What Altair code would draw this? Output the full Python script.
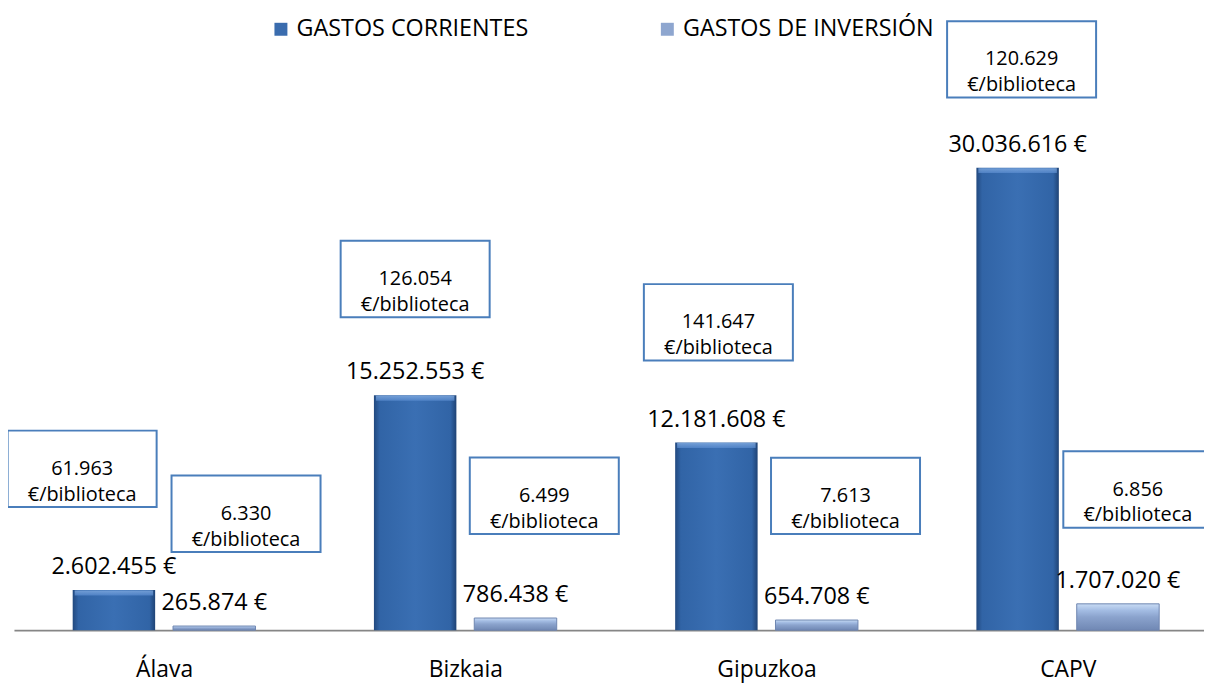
import altair as alt
import pandas as pd

# ---------------- data ----------------
categorias = ["Álava", "Bizkaia", "Gipuzkoa", "CAPV"]
series = ["GASTOS CORRIENTES", "GASTOS DE INVERSIÓN"]
gastos_corrientes = [2602455, 15252553, 12181608, 30036616]
gastos_inversion = [265874, 786438, 654708, 1707020]
biblio_corrientes = [61963, 126054, 141647, 120629]
biblio_inversion = [6330, 6499, 7613, 6856]


def fmt(v):
    return f"{v:,}".replace(",", ".")


rows = []
for i, c in enumerate(categorias):
    for s, vals, per in ((series[0], gastos_corrientes, biblio_corrientes),
                         (series[1], gastos_inversion, biblio_inversion)):
        rows.append({
            "categoria": c,
            "serie": s,
            "valor": vals[i],
            "etiqueta": fmt(vals[i]) + " €",
            "caja": fmt(per[i]) + "\n€/biblioteca",
        })
df = pd.DataFrame(rows)

# ---------------- layout / style ----------------
FONT = "Open Sans"
W, H = 1198, 620
SERIES_DX = {series[0]: -51, series[1]: 50}
BAR_W = 83
# box placement relative to the top-centre of its bar (pixels)
BOX_SHIFT = {
    ("Álava", series[0]): (-32, -122),
    ("Álava", series[1]): (32, -113),
    ("Bizkaia", series[0]): (0, -117),
    ("Bizkaia", series[1]): (29, -123),
    ("Gipuzkoa", series[0]): (2, -121),
    ("Gipuzkoa", series[1]): (29, -125),
    ("CAPV", series[0]): (4, -109),
    ("CAPV", series[1]): (20, -115),
}
BOX_PATH = "M-1,-0.5133L1,-0.5133L1,0.5133L-1,0.5133Z"

grad_corr = alt.Gradient(
    gradient="linear", x1=0, x2=1, y1=0, y2=0,
    stops=[
        alt.GradientStop(color="#22497f", offset=0),
        alt.GradientStop(color="#3164a6", offset=0.07),
        alt.GradientStop(color="#3a6fb3", offset=0.5),
        alt.GradientStop(color="#3164a6", offset=0.93),
        alt.GradientStop(color="#1f4375", offset=1),
    ],
)
grad_corr_top = alt.Gradient(
    gradient="linear", x1=0, x2=0, y1=0, y2=1,
    stops=[
        alt.GradientStop(color="#8db5e8", offset=0),
        alt.GradientStop(color="#5a8cd0", offset=1),
    ],
)
grad_inv = alt.Gradient(
    gradient="linear", x1=0, x2=0, y1=0, y2=1,
    stops=[
        alt.GradientStop(color="#c9dcf4", offset=0),
        alt.GradientStop(color="#a3bce3", offset=0.25),
        alt.GradientStop(color="#8ba3cd", offset=0.5),
        alt.GradientStop(color="#7088b4", offset=1),
    ],
)

x_enc = alt.X(
    "categoria:N",
    sort=categorias,
    scale=alt.Scale(range=[0, 1213], paddingInner=0, paddingOuter=0),
    axis=alt.Axis(
        title=None, labelAngle=0, ticks=False, grid=False,
        domainColor="#868686", domainWidth=2,
        labelFont=FONT, labelFontSize=23, labelColor="black",
        labelPadding=29,
    ),
)
y_enc = alt.Y(
    "valor:Q",
    scale=alt.Scale(domain=[0, 40000000], nice=False, zero=True),
    axis=None,
)

base = alt.Chart(df).encode(x=x_enc, y=y_enc)

layers = []

# legend carrier (invisible marks)
legend_layer = alt.Chart(df).mark_square(opacity=0).encode(
    x=x_enc, y=y_enc,
    color=alt.Color(
        "serie:N",
        scale=alt.Scale(domain=series, range=["#3a6cae", "#8ea6cf"]),
        legend=alt.Legend(
            title=None, orient="none", legendX=257, legendY=3,
            direction="horizontal", symbolType="square", symbolSize=170,
            symbolOpacity=1, symbolStrokeWidth=0,
            labelFont=FONT, labelFontSize=23.5, labelColor="black",
            labelOffset=4, labelLimit=500, columnPadding=128,
        ),
    ),
)
layers.append(legend_layer)

for s in series:
    sub = base.transform_filter(alt.datum.serie == s)
    dx = SERIES_DX[s]
    if s == series[0]:
        layers.append(sub.mark_bar(width=BAR_W, xOffset=dx, color=grad_corr))
        layers.append(sub.mark_tick(size=BAR_W - 4, thickness=5, xOffset=dx,
                                    yOffset=3, color=grad_corr_top))
    else:
        layers.append(sub.mark_bar(width=BAR_W, xOffset=dx, color=grad_inv,
                                   stroke="#6f86b0", strokeWidth=1))
    layers.append(sub.mark_text(
        xOffset=dx, dy=-16, baseline="alphabetic", align="center",
        font=FONT, fontSize=23.5, color="black",
    ).encode(text="etiqueta:N"))

for (c, s), (bx, by) in BOX_SHIFT.items():
    sub = base.transform_filter(
        (alt.datum.categoria == c) & (alt.datum.serie == s)
    )
    ox = SERIES_DX[s] + bx
    layers.append(sub.mark_point(
        shape=BOX_PATH, size=22500, filled=True, fill="white",
        stroke="#4a7ebb", strokeWidth=2, opacity=1,
        xOffset=ox, yOffset=by,
    ))
    layers.append(sub.mark_text(
        xOffset=ox, yOffset=by, baseline="middle", align="center",
        lineBreak="\n", lineHeight=26, font=FONT, fontSize=20, color="black",
    ).encode(text="caja:N"))

chart = alt.layer(*layers).properties(
    width=W, height=H,
    background="white",
    padding={"left": 6, "top": 4, "right": 0, "bottom": 60},
    autosize=alt.AutoSizeParams(type="none"),
).configure_view(stroke=None, strokeWidth=0)

chart.save("out.html", embed_options={"renderer": "svg", "actions": False})
